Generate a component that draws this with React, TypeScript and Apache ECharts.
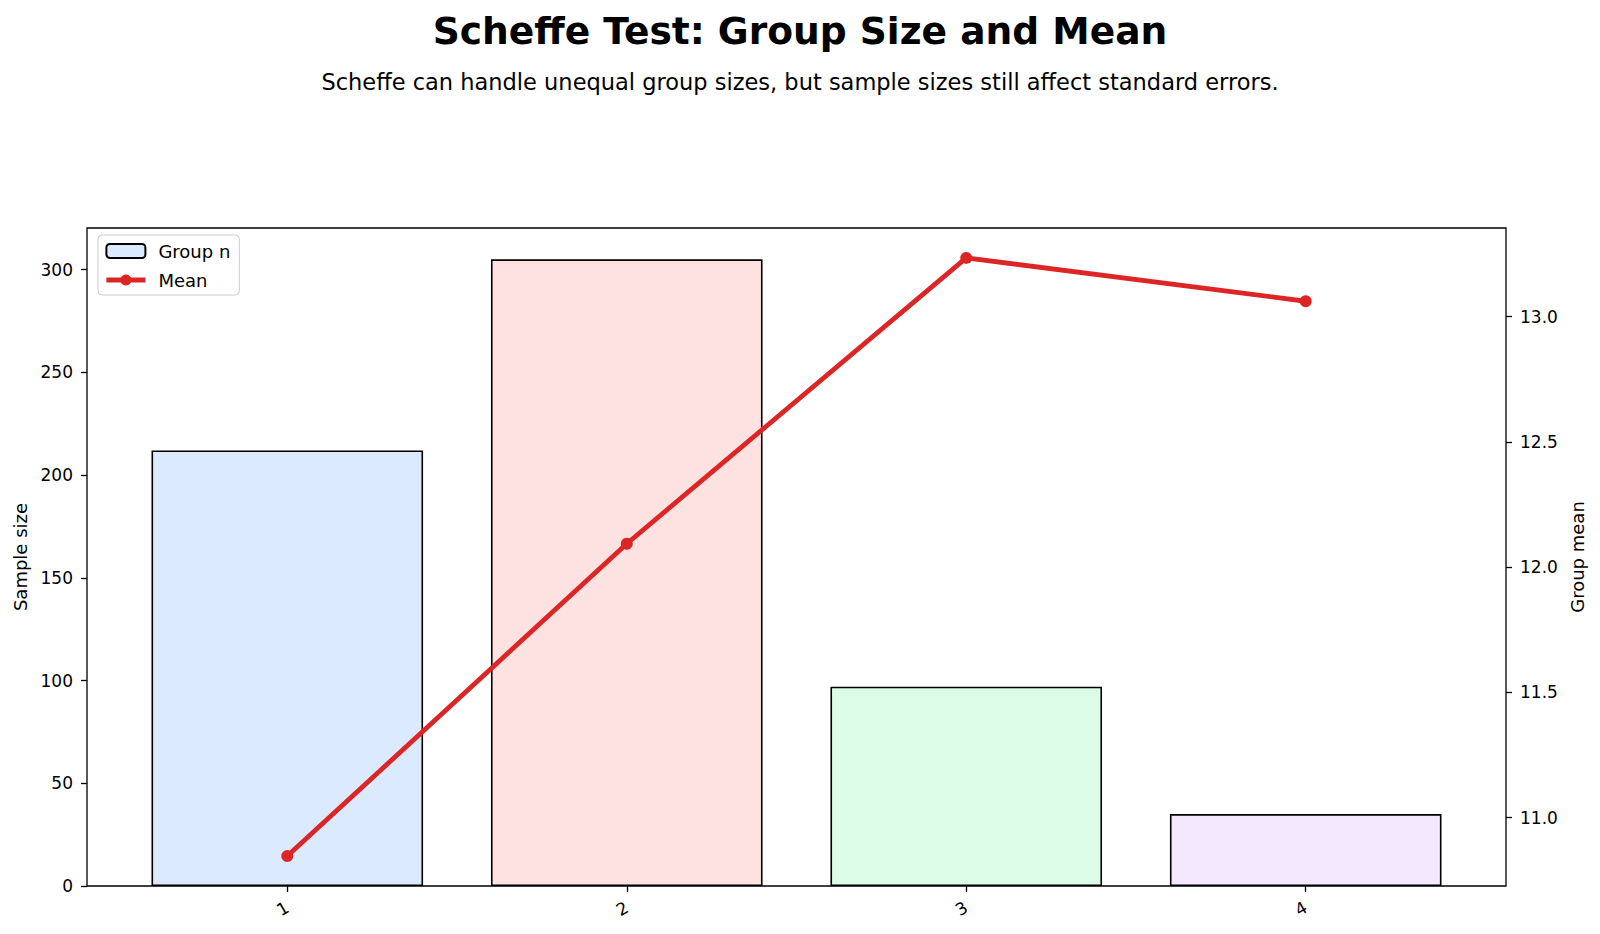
import React, { useEffect, useRef } from "react";
import * as echarts from "echarts";

const categories = ["1", "2", "3", "4"];
const groupN = [212, 305, 97, 35];
const groupMean = [10.846, 12.093, 13.234, 13.061];
const barColors = ["#dbeafe", "#fee2e2", "#dcfce7", "#f3e8ff"];
const leftTicks = [0, 50, 100, 150, 200, 250, 300];
const rightTicks = [11.0, 11.5, 12.0, 12.5, 13.0];

const TITLE = "Scheffe Test: Group Size and Mean";
const SUBTITLE = "Scheffe can handle unequal group sizes, but sample sizes still affect standard errors.";

const FONT = "DejaVu Sans";

export default function App() {
  const ref = useRef<HTMLDivElement>(null);

  useEffect(() => {
    document.body.style.margin = "0";
    if (!ref.current) return;
    const chart = echarts.init(ref.current, null, { renderer: "svg" });

    // plot frame
    const L = 87, T = 228, W = 1419, H = 658;
    const n = categories.length;
    const barW = 0.8;
    const span = (n - 1 + barW) * 1.1;
    const unit = W / span;
    const xLo = -barW / 2 - 0.05 * (n - 1 + barW);
    const g1Left = L + (-0.5 - xLo) * unit;
    const g1Width = n * unit;

    const leftMax = Math.max(...groupN) * 1.05;
    const mMin = Math.min(...groupMean);
    const mMax = Math.max(...groupMean);
    const mPad = (mMax - mMin) * 0.05;
    const rightMin = mMin - mPad;
    const rightMax = mMax + mPad;

    const tickStyle = { show: true, length: 6, inside: false, lineStyle: { color: "#000", width: 1.3 } };
    const labelStyle = { color: "#000", fontSize: 17, fontFamily: FONT };

    const option: any = {
      animation: false,
      backgroundColor: "#fff",
      textStyle: { fontFamily: FONT },
      title: [
        {
          text: TITLE,
          left: "center",
          top: 7,
          textStyle: { fontSize: 37.6, fontWeight: "bold", color: "#000", fontFamily: FONT },
        },
        {
          text: SUBTITLE,
          left: "center",
          top: 65,
          textStyle: { fontSize: 22.5, fontWeight: "normal", color: "#000", fontFamily: FONT },
        },
      ],
      legend: {
        orient: "vertical",
        left: 98,
        top: 235,
        padding: [7, 9, 6, 6],
        itemGap: 11,
        itemWidth: 39,
        itemHeight: 14,
        borderColor: "#cccccc",
        borderWidth: 1,
        borderRadius: 4,
        backgroundColor: "rgba(255,255,255,0.8)",
        textStyle: { fontSize: 18, color: "#000", fontFamily: FONT, padding: [0, 0, 0, 8] },
        lineStyle: { width: 4.8 },
        data: ["Group n", "Mean"],
      },
      grid: [
        { left: L, top: T, width: W, height: H, show: true, borderColor: "#000", borderWidth: 1.3, backgroundColor: "transparent" },
        { left: g1Left, top: T, width: g1Width, height: H },
      ],
      xAxis: [
        {
          type: "category",
          gridIndex: 1,
          data: categories,
          boundaryGap: true,
          axisLine: { show: false },
          axisTick: { ...tickStyle, alignWithLabel: true },
          axisLabel: { ...labelStyle, rotate: 30, margin: 20 },
          splitLine: { show: false },
        },
        { type: "value", gridIndex: 0, min: 0, max: 1, show: false },
      ],
      yAxis: [
        {
          type: "value",
          gridIndex: 0,
          position: "left",
          min: 0,
          max: leftMax,
          axisLine: { show: false },
          axisTick: { ...tickStyle, customValues: leftTicks },
          axisLabel: { ...labelStyle, margin: 14, customValues: leftTicks },
          splitLine: { show: false },
          name: "Sample size",
          nameLocation: "middle",
          nameRotate: 90,
          nameGap: 58,
          nameTextStyle: { fontSize: 18, color: "#000", fontFamily: FONT },
        },
        {
          type: "value",
          gridIndex: 0,
          position: "right",
          min: rightMin,
          max: rightMax,
          axisLine: { show: false },
          axisTick: { ...tickStyle, customValues: rightTicks },
          axisLabel: {
            ...labelStyle,
            margin: 14,
            customValues: rightTicks,
            formatter: (v: number) => v.toFixed(1),
          },
          splitLine: { show: false },
          name: "Group mean",
          nameLocation: "middle",
          nameRotate: 90,
          nameGap: 60,
          nameTextStyle: { fontSize: 18, color: "#000", fontFamily: FONT },
        },
        { type: "value", gridIndex: 1, min: 0, max: leftMax, show: false },
        { type: "value", gridIndex: 1, min: rightMin, max: rightMax, show: false },
      ],
      series: [
        {
          name: "Group n",
          type: "bar",
          xAxisIndex: 0,
          yAxisIndex: 2,
          barWidth: `${barW * 100}%`,
          itemStyle: { color: barColors[0], borderColor: "#000", borderWidth: 1.6 },
          data: groupN.map((v, i) => ({
            value: v,
            itemStyle: { color: barColors[i], borderColor: "#000", borderWidth: 1.6 },
          })),
          z: 2,
        },
        {
          name: "Mean",
          type: "line",
          xAxisIndex: 0,
          yAxisIndex: 3,
          data: groupMean,
          symbol: "circle",
          symbolSize: 12,
          showSymbol: true,
          lineStyle: { color: "#dc2626", width: 4.8 },
          itemStyle: { color: "#dc2626", borderWidth: 0 },
          z: 3,
        },
      ],
    };

    chart.setOption(option);
    return () => chart.dispose();
  }, []);

  return <div ref={ref} style={{ width: 1600, height: 934 }} />;
}
